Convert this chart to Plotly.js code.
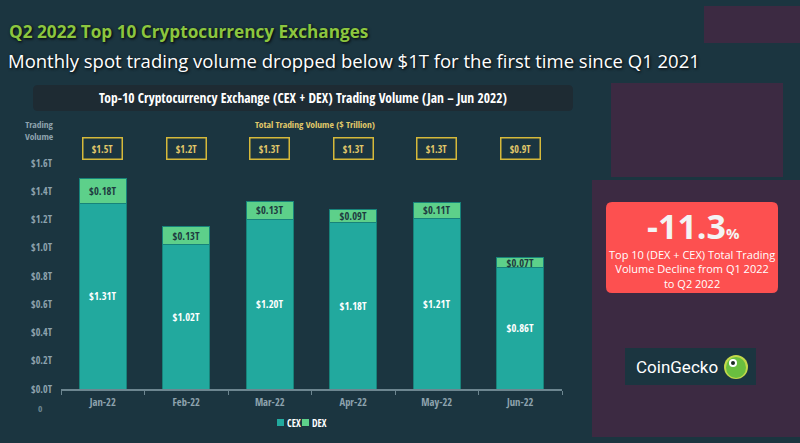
<!DOCTYPE html>
<html>
<head>
<meta charset="utf-8">
<script src="https://cdn.plot.ly/plotly-3.0.1.min.js"></script>
<style>
html,body{margin:0;padding:0;background:#1b3540;}
#chart{width:800px;height:443px;}
</style>
</head>
<body>
<div id="chart"></div>
<script>
// ---- data ----
const months = ['Jan-22','Feb-22','Mar-22','Apr-22','May-22','Jun-22'];
const cexVolume = [1.31, 1.02, 1.20, 1.18, 1.21, 0.86];
const dexVolume = [0.18, 0.13, 0.13, 0.09, 0.11, 0.07];
const totalVolume = [1.5, 1.2, 1.3, 1.3, 1.3, 0.9];
const yTickVals = [0, 0.2, 0.4, 0.6, 0.8, 1.0, 1.2, 1.4, 1.6];
const yTickText = ['$0.0T','$0.2T','$0.4T','$0.6T','$0.8T','$1.0T','$1.2T','$1.4T','$1.6T'];
const seriesNames = ['CEX', 'DEX'];
const seriesColors = ['#22a99e', '#5dd08a'];

// ---- layout helpers (pixel -> paper) ----
const W = 800, H = 443;
const L = 61, R = 562, T = 163, B = 389;
const px = x => (x - L) / (R - L);
const py = y => (B - y) / (B - T);

const FONT = '"Open Sans Condensed","Liberation Sans Narrow","DejaVu Sans Condensed","Open Sans",sans-serif';
const OPEN = '"Open Sans",sans-serif';
const TICKC = '#8ea3ae';
const GOLD = '#e2c96a';

const traces = [
  {
    type: 'bar', name: seriesNames[0], x: months, y: cexVolume,
    marker: {color: seriesColors[0], line: {color: '#17837a', width: 1}},
    texttemplate: '$%{y:.2f}T', textposition: 'inside', insidetextanchor: 'middle',
    textangle: 0, constraintext: 'none',
    textfont: {family: FONT, size: 10.5, color: '#ffffff'},
    hoverinfo: 'skip', showlegend: false
  },
  {
    type: 'bar', name: seriesNames[1], x: months, y: dexVolume,
    marker: {color: seriesColors[1], line: {color: '#17837a', width: 1}},
    texttemplate: '$%{y:.2f}T', textposition: 'inside', insidetextanchor: 'middle',
    textangle: 0, constraintext: 'none',
    textfont: {family: FONT, size: 10.5, color: '#1d3a40'},
    hoverinfo: 'skip', showlegend: false
  }
];

function rrect(x0, y0, x1, y1, r) {
  const X = v => px(v), Y = v => py(v);
  return `M${X(x0+r)},${Y(y0)} L${X(x1-r)},${Y(y0)} Q${X(x1)},${Y(y0)} ${X(x1)},${Y(y0+r)} ` +
         `L${X(x1)},${Y(y1-r)} Q${X(x1)},${Y(y1)} ${X(x1-r)},${Y(y1)} L${X(x0+r)},${Y(y1)} ` +
         `Q${X(x0)},${Y(y1)} ${X(x0)},${Y(y1-r)} L${X(x0)},${Y(y0+r)} Q${X(x0)},${Y(y0)} ${X(x0+r)},${Y(y0)} Z`;
}
const rect = (x0, y0, x1, y1, fill, extra) => Object.assign({
  type: 'rect', xref: 'paper', yref: 'paper', layer: 'below',
  x0: px(x0), x1: px(x1), y0: py(y1), y1: py(y0),
  fillcolor: fill, line: {width: 0}
}, extra || {});

const shapes = [
  rect(704, 6, 800, 43, '#3c2a42'),
  rect(611, 83, 783, 177, '#3c2a42'),
  rect(592, 180, 800, 437, '#3c2a42'),
  {type: 'path', xref: 'paper', yref: 'paper', layer: 'below', path: rrect(33, 85, 573, 111, 5),
   fillcolor: '#1e2b33', line: {width: 0}},
  {type: 'path', xref: 'paper', yref: 'paper', layer: 'above', path: rrect(606, 202, 778, 293, 6),
   fillcolor: '#fd5050', line: {width: 0}},
  rect(625, 348, 756, 385, '#1b3540', {layer: 'above'}),
  {type: 'circle', xref: 'paper', yref: 'paper', layer: 'above',
   x0: px(724), x1: px(748), y0: py(379), y1: py(355),
   fillcolor: '#c2d94a', line: {width: 0}},
  {type: 'circle', xref: 'paper', yref: 'paper', layer: 'above',
   x0: px(726), x1: px(746), y0: py(378), y1: py(357),
   fillcolor: '#6abf3f', line: {width: 0}},
  {type: 'circle', xref: 'paper', yref: 'paper', layer: 'above',
   x0: px(729), x1: px(737), y0: py(367), y1: py(359),
   fillcolor: '#ffffff', line: {width: 0}},
  {type: 'circle', xref: 'paper', yref: 'paper', layer: 'above',
   x0: px(731), x1: px(735), y0: py(365), y1: py(361),
   fillcolor: '#1b2a20', line: {width: 0}}
];

// legend swatches (small squares)
const legendX = [277, 302];
seriesNames.forEach((n, i) => {
  shapes.push(rect(legendX[i], 419, legendX[i] + 7, 426, seriesColors[i], {layer: 'above'}));
});

const shadow = '1px 1px 3px #000';
const annotations = [
  {xref: 'paper', yref: 'paper', x: px(7), y: py(31), xanchor: 'left', yanchor: 'middle', showarrow: false,
   text: '<b>Q2 2022 Top 10 Cryptocurrency Exchanges</b>',
   font: {family: OPEN, size: 17.2, color: '#8cc63f', shadow: shadow}},
  {xref: 'paper', yref: 'paper', x: px(6), y: py(60), xanchor: 'left', yanchor: 'middle', showarrow: false,
   text: 'Monthly spot trading volume dropped below $1T for the first time since Q1 2021',
   font: {family: OPEN, size: 18.5, color: '#ffffff', shadow: shadow}},
  {xref: 'paper', yref: 'paper', x: px(303), y: py(98), xanchor: 'center', yanchor: 'middle', showarrow: false,
   text: '<b>Top-10 Cryptocurrency Exchange (CEX + DEX) Trading Volume (Jan – Jun 2022)</b>',
   font: {family: FONT, size: 13.5, color: '#ffffff'}},
  {xref: 'paper', yref: 'paper', x: px(315), y: py(124), xanchor: 'center', yanchor: 'middle', showarrow: false,
   text: 'Total Trading Volume ($ Trillion)',
   font: {family: FONT, size: 9.5, color: GOLD}},
  {xref: 'paper', yref: 'paper', x: px(39), y: py(130), xanchor: 'center', yanchor: 'middle', showarrow: false,
   text: '<b>Trading<br>Volume</b>',
   font: {family: FONT, size: 9.5, color: TICKC}},
  {xref: 'paper', yref: 'paper', x: px(40), y: py(408), xanchor: 'center', yanchor: 'middle', showarrow: false,
   text: '0',
   font: {family: FONT, size: 9.5, color: '#6d8690'}},
  {xref: 'paper', yref: 'paper', x: px(693), y: py(226), xanchor: 'center', yanchor: 'middle', showarrow: false,
   text: '<b>-11.3</b><b><span style="font-size:15px">%</span></b>',
   font: {family: OPEN, size: 34, color: '#f4f4f4'}},
  {xref: 'paper', yref: 'paper', x: px(692), y: py(269), xanchor: 'center', yanchor: 'middle', showarrow: false,
   text: 'Top 10 (DEX + CEX) Total Trading<br>Volume Decline from Q1 2022<br>to Q2 2022',
   font: {family: OPEN, size: 11, color: '#ffffff'}},
  {xref: 'paper', yref: 'paper', x: px(677), y: py(367), xanchor: 'center', yanchor: 'middle', showarrow: false,
   text: 'CoinGecko',
   font: {family: 'Roboto, "Liberation Sans", sans-serif', size: 17, color: '#ffffff'}}
];
seriesNames.forEach((n, i) => {
  annotations.push({xref: 'paper', yref: 'paper', x: px(legendX[i] + 8), y: py(423), xanchor: 'left', yanchor: 'middle',
    showarrow: false, text: n, font: {family: FONT, size: 10, color: '#ffffff'}});
});
months.forEach((m, i) => {
  annotations.push({
    xref: 'x', yref: 'paper', x: m, y: py(148), xanchor: 'center', yanchor: 'middle', showarrow: false,
    text: '$' + totalVolume[i].toFixed(1) + 'T',
    font: {family: FONT, size: 10, color: GOLD},
    bordercolor: '#d6b93a', borderwidth: 1.5, borderpad: 4, width: 30, height: 12,
    bgcolor: 'rgba(0,0,0,0)'
  });
});

const layout = {
  width: W, height: H,
  paper_bgcolor: '#1b3540', plot_bgcolor: 'rgba(0,0,0,0)',
  margin: {l: L, r: W - R, t: T, b: H - B, pad: 0},
  barmode: 'stack', bargap: 0.44,
  showlegend: false,
  font: {family: FONT},
  xaxis: {
    showgrid: false, zeroline: false, showline: true, linecolor: '#6d8690', linewidth: 1.5,
    ticks: 'outside', tickson: 'boundaries', ticklen: 4, tickcolor: '#6d8690',
    tickfont: {family: FONT, size: 10.5, color: TICKC},
    ticklabelstandoff: 3, fixedrange: true
  },
  yaxis: {
    range: [0, 1.6], showgrid: false, zeroline: false, showline: false,
    tickvals: yTickVals, ticktext: yTickText, ticks: '',
    tickfont: {family: FONT, size: 10, color: TICKC},
    ticklabelstandoff: 8, fixedrange: true
  },
  shapes: shapes,
  annotations: annotations
};

Plotly.newPlot('chart', traces, layout, {displayModeBar: false, staticPlot: true});
</script>
</body>
</html>
